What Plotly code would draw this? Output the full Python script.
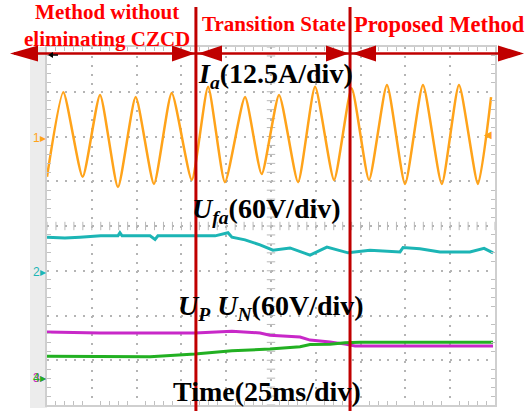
import plotly.graph_objects as go

W, H = 529, 411

# ---- data (time in ms, amplitude in screen divisions) ----
ia_t = [0, 9.1, 19.9, 29.6, 39.6, 49.5, 59.7, 69.6, 80.8, 89.9, 99.3, 110.5, 119.8,
        129.5, 140.1, 149.6, 160.2, 170.0, 179.7, 189.7, 199.8, 209.8, 220.3, 229.9,
        240.5, 247.8]
ia_v = [1.10, 2.99, 1.10, 2.93, 0.87, 2.88, 0.94, 2.97, 1.03, 3.11, 0.98, 2.88, 1.16,
        2.93, 0.98, 3.11, 1.03, 3.08, 1.03, 3.15, 0.94, 3.15, 0.94, 3.15, 0.94, 2.88]

ufa_t = [0, 10.0, 18.4, 30.0, 39.6, 40.7, 41.9, 57.5, 60.3, 61.9, 79.8, 93.8, 101.0, 103.2, 110.5,
         118.9, 126.1, 135.6, 146.8, 156.2, 168.0, 180.2, 197.0, 198.7, 208.1, 219.3,
         236.0, 243.9, 248.9]
ufa_v = [-0.25, -0.27, -0.25, -0.22, -0.22, -0.15, -0.22, -0.22, -0.30, -0.22, -0.22, -0.22, -0.15,
         -0.25, -0.31, -0.42, -0.54, -0.49, -0.65, -0.47, -0.60, -0.54, -0.58, -0.48,
         -0.51, -0.58, -0.58, -0.50, -0.60]

up_t = [0, 29.6, 57.5, 82.6, 103.2, 118.9, 124.4, 141.2, 146.8, 157.9, 166.3, 171.9, 197.0, 248.9]
up_v = [-2.37, -2.39, -2.39, -2.39, -2.35, -2.39, -2.44, -2.48, -2.55, -2.59, -2.64, -2.68, -2.68, -2.68]

un_t = [0, 29.6, 57.5, 82.6, 103.2, 124.4, 141.2, 146.8, 157.9, 166.3, 174.7, 248.9]
un_v = [-2.91, -2.91, -2.92, -2.86, -2.79, -2.75, -2.70, -2.65, -2.64, -2.61, -2.60, -2.60]

boundaries_ms = [83.1, 169.1]

region_labels = ["Method without<br>eliminating CZCD", "Transition State", "Proposed Method"]

# ---- helpers (pixel -> paper) ----
def px(x):
    return x / W

def py(y):
    return 1 - y / H

X0, X1, Y0, Y1 = 47, 495, 47, 405

fig = go.Figure()

# center-cross tick marks (scope graticule)
cx = [i * 5 for i in range(51)]
fig.add_trace(go.Scatter(x=cx, y=[0] * len(cx), mode="markers", hoverinfo="skip",
                         marker=dict(symbol="line-ns", size=6, line=dict(width=1, color="#b8b8b8")),
                         showlegend=False))
cy = [-4 + i * 0.2 for i in range(41)]
fig.add_trace(go.Scatter(x=[125] * len(cy), y=cy, mode="markers", hoverinfo="skip",
                         marker=dict(symbol="line-ew", size=6, line=dict(width=1, color="#b8b8b8")),
                         showlegend=False))

fig.add_trace(go.Scatter(x=ia_t, y=ia_v, mode="lines", line=dict(color="#FFA31A", width=2.5, shape="spline", smoothing=0.55), showlegend=False))
fig.add_trace(go.Scatter(x=ufa_t, y=ufa_v, mode="lines", line=dict(color="#1CB5B5", width=3), showlegend=False))
fig.add_trace(go.Scatter(x=up_t, y=up_v, mode="lines", line=dict(color="#C828C8", width=3), showlegend=False))
fig.add_trace(go.Scatter(x=un_t, y=un_v, mode="lines", line=dict(color="#22B022", width=3), showlegend=False))

shapes = []
# left gray bar
shapes.append(dict(type="rect", xref="paper", yref="paper", x0=px(30), x1=px(X0), y0=py(408), y1=py(Y0),
                   fillcolor="#ececec", line=dict(width=0), layer="below"))
# red boundary lines
for b in boundaries_ms:
    shapes.append(dict(type="line", xref="x", yref="paper", x0=b, x1=b, y0=py(411), y1=py(7),
                       line=dict(color="#C00000", width=3)))
# horizontal arrow line
ay = 53.5
shapes.append(dict(type="line", xref="paper", yref="paper", x0=px(14), x1=px(520), y0=py(ay), y1=py(ay),
                   line=dict(color="#C00000", width=2.5)))

def tri(tip, base, h=8, y=ay, col="#C00000"):
    return dict(type="path", xref="paper", yref="paper",
                path=f"M{px(base)},{py(y - h)} L{px(tip)},{py(y)} L{px(base)},{py(y + h)} Z",
                fillcolor=col, line=dict(width=0))

for tip, base in [(10, 38), (195, 172), (198, 222), (349, 326), (352, 376), (524, 498)]:
    shapes.append(tri(tip, base))

# small black trigger-position arrow (scope marker)
shapes.append(dict(type="line", xref="paper", yref="paper", x0=px(51), x1=px(58), y0=py(55), y1=py(55),
                   line=dict(color="#000000", width=1.5)))
shapes.append(tri(48, 53, h=3, y=55, col="#000000"))

annotations = []
def red_font(s):
    return dict(family="Liberation Serif", size=s, color="#FF0000")

annotations.append(dict(x=px(107), y=py(25), xref="paper", yref="paper", text="<b>" + region_labels[0] + "</b>",
                        showarrow=False, font=red_font(21), xanchor="center", yanchor="middle", align="center"))
annotations.append(dict(x=px(274), y=py(24), xref="paper", yref="paper", text="<b>" + region_labels[1] + "</b>",
                        showarrow=False, font=red_font(21), xanchor="center", yanchor="middle"))
annotations.append(dict(x=px(439), y=py(24), xref="paper", yref="paper", text="<b>" + region_labels[2] + "</b>",
                        showarrow=False, font=red_font(22.5), xanchor="center", yanchor="middle"))

blk = dict(family="Liberation Serif", size=28, color="#000000")
labels = [
    ("<b><i>I</i><sub><i>a</i></sub>(12.5A/div)</b>", 275, 75),
    ("<b><i>U</i><sub><i>fa</i></sub>(60V/div)</b>", 266, 210),
    ("<b><i>U</i><sub><i>P</i></sub> <i>U</i><sub><i>N</i></sub>(60V/div)</b>", 271, 307),
    ("<b>Time(25ms/div)</b>", 267, 391),
]
for t, x, y in labels:
    annotations.append(dict(x=px(x), y=py(y), xref="paper", yref="paper", text=t, showarrow=False,
                            font=blk, xanchor="center", yanchor="middle"))

# channel markers
for txt, col, y in [("1▸", "#FFA31A", 138), ("2▸", "#1CB5B5", 272), ("3▸", "#C828C8", 378), ("4▸", "#22B022", 378)]:
    annotations.append(dict(x=px(39), y=py(y), xref="paper", yref="paper", text=txt, showarrow=False,
                            font=dict(family="Arial", size=12, color=col), xanchor="center", yanchor="middle"))
annotations.append(dict(x=px(488), y=py(134), xref="paper", yref="paper", text="◀", showarrow=False,
                        font=dict(family="DejaVu Sans", size=10, color="#FFA31A"), xanchor="center", yanchor="middle"))

grid = dict(showgrid=True, gridcolor="#b4b4b4", gridwidth=1.5, griddash="2px,6.96px",
            zeroline=False, showticklabels=False, showline=True, mirror="allticks",
            linecolor="#cfcfcf", linewidth=2, ticks="", fixedrange=True)

fig.update_layout(
    width=W, height=H, margin=dict(l=0, r=0, t=0, b=0),
    paper_bgcolor="white", plot_bgcolor="white",
    xaxis=dict(range=[0, 250], dtick=25, domain=[px(X0), px(X1)],
               minor=dict(ticks="inside", dtick=5, ticklen=4, tickcolor="#c0c0c0", showgrid=False), **grid),
    yaxis=dict(range=[-4, 4], dtick=1, domain=[py(Y1), py(Y0)],
               minor=dict(ticks="inside", dtick=0.2, ticklen=4, tickcolor="#c0c0c0", showgrid=False), **grid),
    shapes=shapes, annotations=annotations, showlegend=False,
)

fig.write_html("out.html")
